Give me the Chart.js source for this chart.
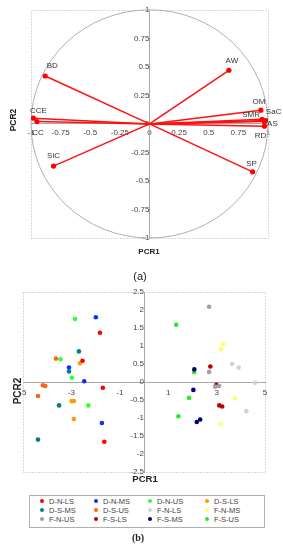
<!DOCTYPE html>
<html>
<head>
<meta charset="utf-8">
<script src="https://cdn.jsdelivr.net/npm/chart.js@4.4.1/dist/chart.umd.min.js"></script>
<style>
	body { margin: 0; background: #fff; font-family: "Liberation Sans", Arial, sans-serif; }
	#wrap { position: relative; width: 283px; height: 550px; overflow: hidden; }
	canvas { position: absolute; left: 0; }
	.ttl { position: absolute; font-weight: bold; color: #222; white-space: nowrap; transform: translate(-50%, -50%); }
	.rot { transform: translate(-50%, -50%) rotate(-90deg); }
	.cap { position: absolute; transform: translate(-50%, -50%); color: #222; }
	#legendBox { position: absolute; left: 29px; top: 495px; width: 224px; height: 30px; border: 1px solid #b0b0b0;
		display: grid; grid-template-columns: 54px 54px 57px 59px; grid-auto-rows: 9px; padding: 1px 0 0 10px; box-sizing: content-box; }
	.lg { font-size: 7.5px; line-height: 9px; color: #444; white-space: nowrap; }
	.lg i { display: inline-block; width: 4px; height: 4px; border-radius: 50%; margin-right: 5px; vertical-align: 1px; }
</style>
</head>
<body>
<div id="wrap">
	<canvas id="pcaLoadings" width="283" height="262" style="top:0"></canvas>
	<canvas id="pcaScores" width="283" height="210" style="top:280px"></canvas>

	<div class="ttl rot" style="left:13px; top:120px; font-size:8.5px;">PCR2</div>
	<div class="ttl" style="left:149px; top:251px; font-size:8px;">PCR1</div>
	<div class="cap" style="left:140px; top:276px; font-size:11px;">(a)</div>

	<div class="ttl rot" style="left:17px; top:391px; font-size:10px;">PCR2</div>
	<div class="ttl" style="left:145px; top:478px; font-size:9.5px;">PCR1</div>
	<div id="legendBox"></div>
	<div class="cap" style="left:138px; top:537px; font-size:10px; font-family:'Liberation Serif','Times New Roman',serif; font-weight:bold;">(b)</div>
</div>

<script>
"use strict";

// loadings (a)
var varNames = ['BD', 'AW', 'CCE', 'CC', 'SiC', 'OM', 'SMR', 'SaC', 'AS', 'RD', 'SP'];
var varPCR1 = [-0.88, 0.67, -0.98, -0.95, -0.81, 0.94, 0.95, 0.98, 0.97, 0.97, 0.87];
var varPCR2 = [0.42, 0.47, 0.05, 0.02, -0.37, 0.12, 0.04, 0.03, 0.02, -0.02, -0.42];

// scores (b)
var groupNames = ['D-N-LS', 'D-N-MS', 'D-N-US', 'D-S-LS', 'D-S-MS', 'D-S-US',
	'F-N-LS', 'F-N-MS', 'F-N-US', 'F-S-LS', 'F-S-MS', 'F-S-US'];
var groupColors = ['#ff0000', '#0a32ff', '#33ff33', '#ff9a00', '#008080', '#ff6410',
	'#d2d2d2', '#ffff66', '#a0a0a0', '#c00000', '#000080', '#22ee22'];
var scorePCR1 = [
	[-1.82, -2.54, -1.70, -1.64],
	[-1.99, -3.10, -2.47, -1.74],
	[-2.85, -3.45, -2.98, -2.30],
	[-2.65, -2.99, -2.90, -2.90],
	[-2.69, -3.10, -3.51, -4.38],
	[-3.64, -4.18, -4.08, -4.38],
	[3.64, 3.91, 4.59, 4.23],
	[3.28, 3.18, 3.76, 3.17],
	[2.69, 2.69, 2.94, 3.10],
	[2.74, 2.99, 3.11, 3.23],
	[2.08, 2.04, 2.32, 2.18],
	[1.33, 2.07, 1.86, 1.42]
];
var scorePCR2 = [
	[1.37, 0.59, -0.16, -1.66],
	[1.80, 0.40, 0.02, -1.14],
	[1.75, 0.63, 0.12, -0.65],
	[0.52, -0.53, -0.53, -1.03],
	[0.85, 0.29, -0.65, -1.60],
	[0.65, -0.09, -0.11, -0.39],
	[0.50, 0.40, -0.02, -0.81],
	[1.05, 0.91, -0.46, -1.17],
	[2.09, 0.28, -0.13, -0.11],
	[0.43, -0.08, -0.65, -0.68],
	[0.35, -0.22, -1.04, -1.11],
	[1.59, 0.28, -0.44, -0.95]
];

var tickFont = { family: '"Liberation Sans", Arial, sans-serif', size: 8 };

// dotted frame round the plot area
var framePlugin = {
	id: 'frame',
	beforeDatasetsDraw: function (chart) {
		var a = chart.chartArea, ctx = chart.ctx;
		ctx.save();
		ctx.strokeStyle = '#b4b4b4';
		ctx.lineWidth = 1;
		ctx.setLineDash([1, 2]);
		ctx.strokeRect(Math.round(a.left) + 0.5, Math.round(a.top) + 0.5, Math.round(a.right - a.left), Math.round(a.bottom - a.top));
		ctx.restore();
	}
};

// correlation circle, radius 1 in data units
var circlePlugin = {
	id: 'circle',
	beforeDatasetsDraw: function (chart) {
		var xs = chart.scales.x, ys = chart.scales.y, ctx = chart.ctx;
		var cx = xs.getPixelForValue(0), cy = ys.getPixelForValue(0);
		ctx.save();
		ctx.strokeStyle = '#b0b0b0';
		ctx.lineWidth = 1;
		ctx.beginPath();
		ctx.ellipse(cx, cy, xs.getPixelForValue(1) - cx, cy - ys.getPixelForValue(1), 0, 0, Math.PI * 2);
		ctx.stroke();
		ctx.restore();
	}
};

// variable names next to arrow tips
var labelShift = {
	BD: [7, -10], AW: [3, -9], CCE: [5, -7], CC: [1, 11], SiC: [0, -10],
	OM: [-2, -8], SMR: [-11, -5], SaC: [8, -9], AS: [8, 2], RD: [-4, 10], SP: [-1, -8]
};
var varLabelPlugin = {
	id: 'varLabels',
	afterDatasetsDraw: function (chart) {
		var xs = chart.scales.x, ys = chart.scales.y, ctx = chart.ctx;
		ctx.save();
		ctx.font = '8px "Liberation Sans", Arial, sans-serif';
		ctx.fillStyle = '#333';
		ctx.textAlign = 'center';
		ctx.textBaseline = 'middle';
		for (var i = 0; i < varNames.length; i++) {
			var s = labelShift[varNames[i]];
			ctx.fillText(varNames[i], xs.getPixelForValue(varPCR1[i]) + s[0], ys.getPixelForValue(varPCR2[i]) + s[1]);
		}
		ctx.restore();
	}
};

function centerAxis(min, max, step, at, pad) {
	return {
		type: 'linear',
		min: min,
		max: max,
		position: at,
		grid: { display: false, drawTicks: false },
		border: { display: true, color: '#a8a8a8', width: 1 },
		ticks: {
			stepSize: step,
			autoSkip: false,
			maxRotation: 0,
			padding: pad,
			color: '#444',
			font: tickFont,
			callback: function (value) {
				return String(Math.round(value * 100) / 100);
			}
		}
	};
}

var loadingSets = [];
for (var i = 0; i < varNames.length; i++) {
	loadingSets.push({
		label: varNames[i],
		data: [{ x: 0, y: 0 }, { x: varPCR1[i], y: varPCR2[i] }],
		showLine: true,
		borderColor: '#ff1010',
		borderWidth: 1.5,
		pointRadius: [0, 2.6],
		pointBackgroundColor: '#ff0000',
		pointBorderWidth: 0
	});
}

new Chart(document.getElementById('pcaLoadings'), {
	type: 'scatter',
	data: { datasets: loadingSets },
	options: {
		responsive: false,
		animation: false,
		devicePixelRatio: 1,
		layout: { padding: { left: 31, right: 15, top: 6, bottom: 24 } },
		plugins: { legend: { display: false }, tooltip: { enabled: false } },
		scales: {
			x: centerAxis(-1, 1, 0.25, { y: 0 }, 4),
			y: centerAxis(-1, 1, 0.25, { x: 0 }, 5)
		}
	},
	plugins: [framePlugin, circlePlugin, varLabelPlugin]
});

var scoreSets = [];
for (var g = 0; g < groupNames.length; g++) {
	var pts = [];
	for (var k = 0; k < scorePCR1[g].length; k++) {
		pts.push({ x: scorePCR1[g][k], y: scorePCR2[g][k] });
	}
	scoreSets.push({
		label: groupNames[g],
		data: pts,
		pointRadius: 2.3,
		pointBorderWidth: 0,
		pointBackgroundColor: groupColors[g],
		borderColor: groupColors[g]
	});
}

new Chart(document.getElementById('pcaScores'), {
	type: 'scatter',
	data: { datasets: scoreSets },
	options: {
		responsive: false,
		animation: false,
		devicePixelRatio: 1,
		layout: { padding: { left: 23, right: 18, top: 12, bottom: 18 } },
		plugins: { legend: { display: false }, tooltip: { enabled: false } },
		scales: {
			x: centerAxis(-5, 5, 2, { y: 0 }, 6),
			y: centerAxis(-2.5, 2.5, 0.5, { x: 0 }, 6)
		}
	},
	plugins: [framePlugin]
});

// legend, 4 columns x 3 rows
var legendBox = document.getElementById('legendBox');
for (var n = 0; n < groupNames.length; n++) {
	var item = document.createElement('div');
	item.className = 'lg';
	item.innerHTML = '<i style="background:' + groupColors[n] + '"></i>' + groupNames[n];
	legendBox.appendChild(item);
}
</script>
</body>
</html>
